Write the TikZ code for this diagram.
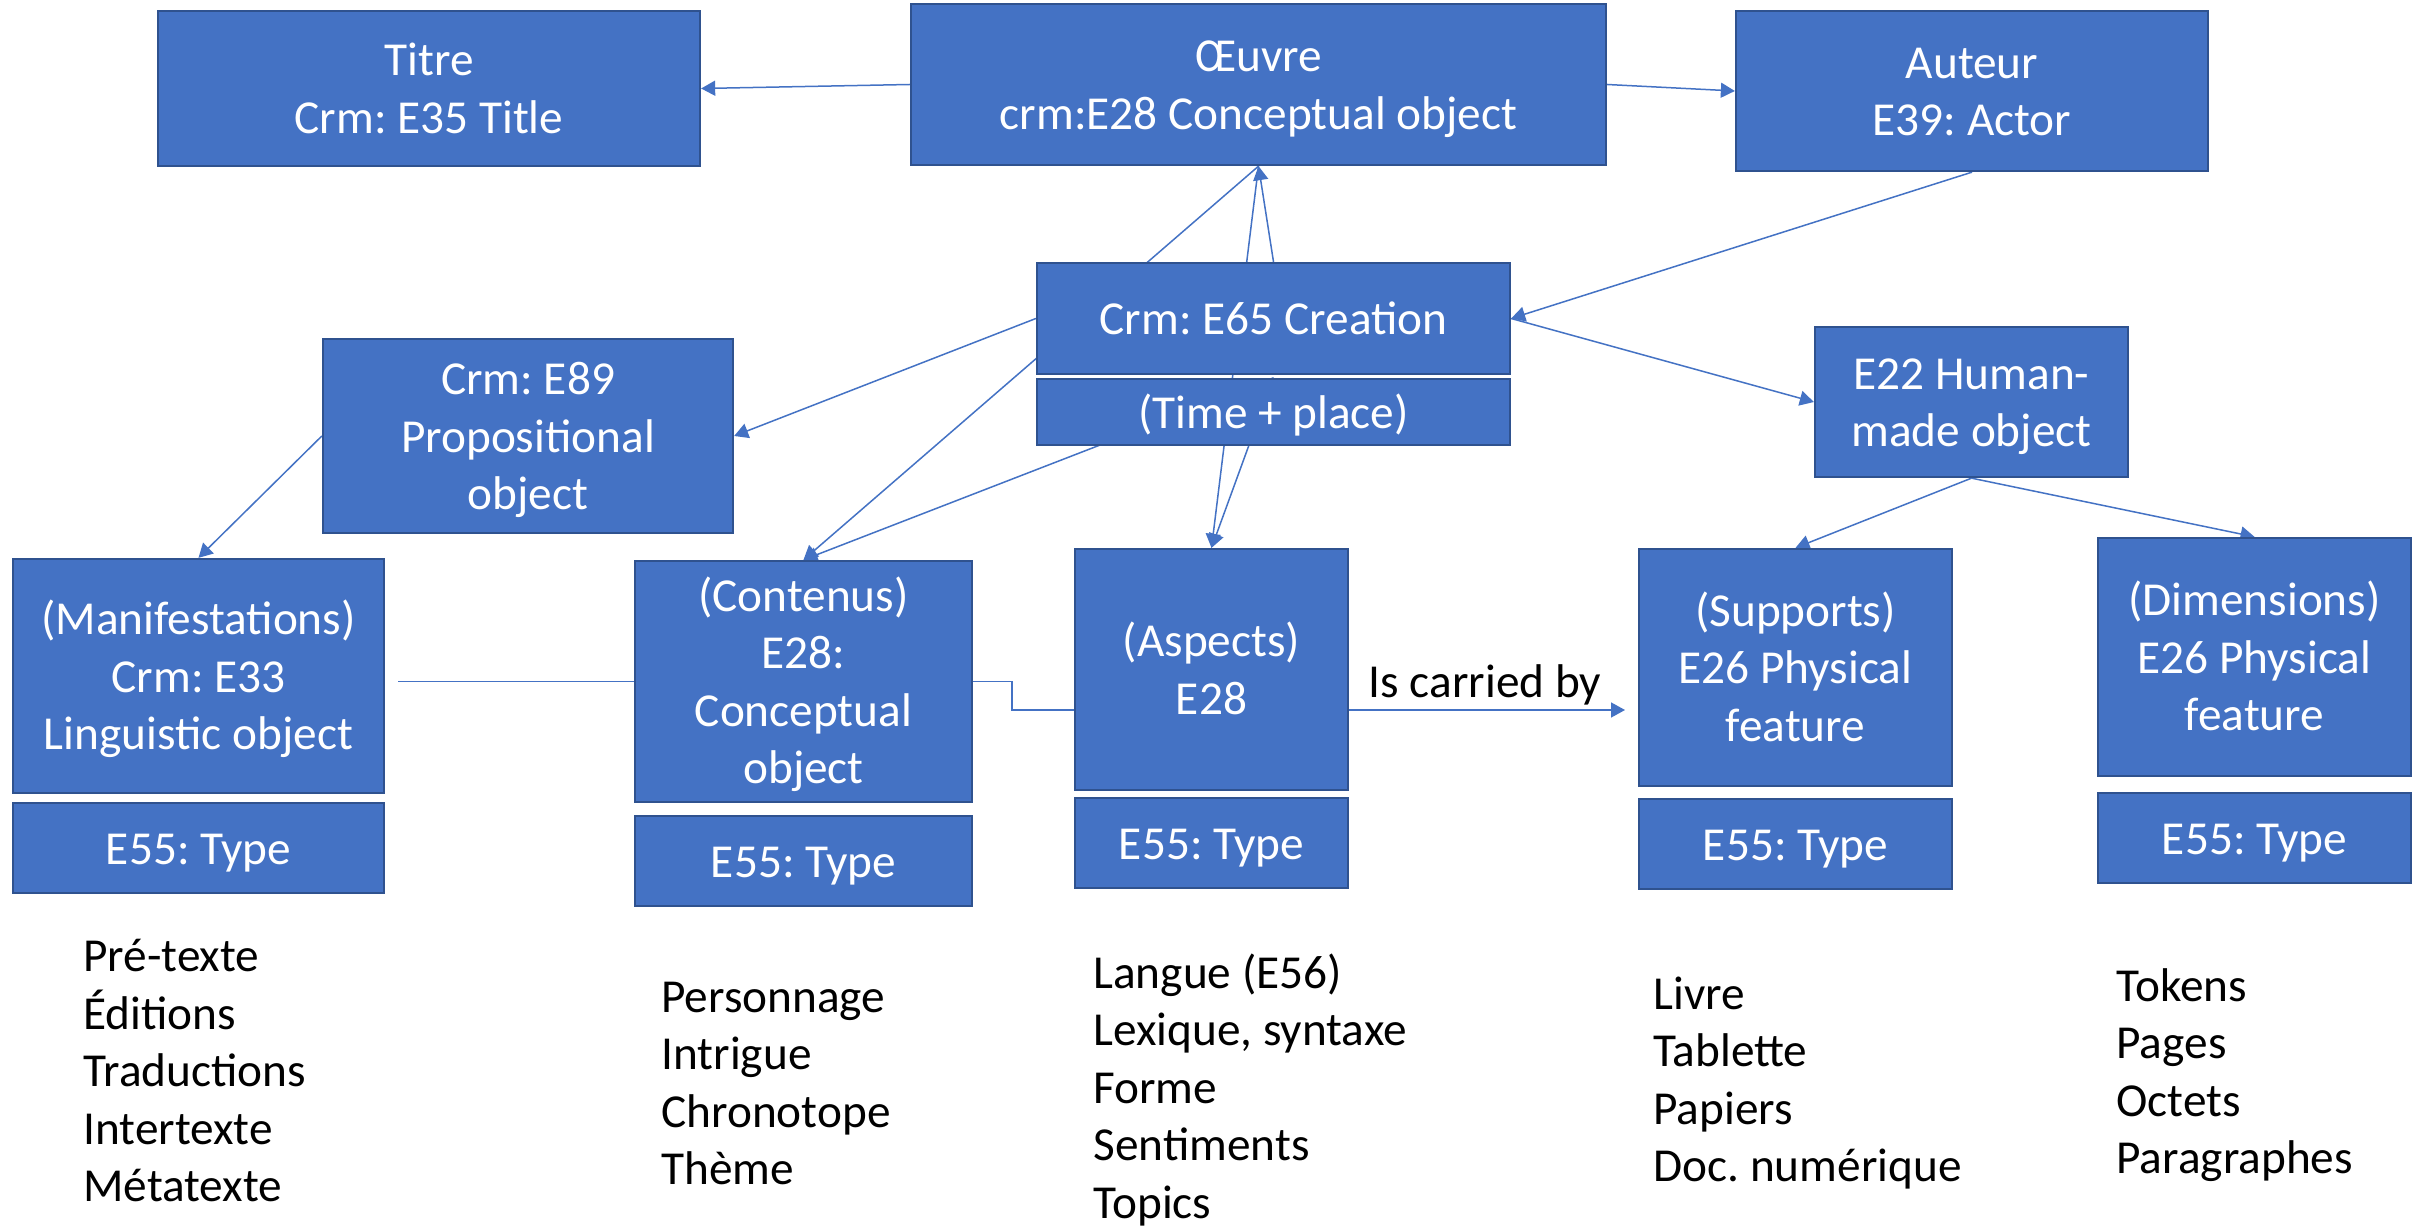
\documentclass[tikz,border=0pt]{standalone}
\usepackage{fontspec}
\setmainfont{Carlito}
\usetikzlibrary{arrows.meta}
\definecolor{boxfill}{HTML}{4472C4}
\definecolor{boxline}{HTML}{2F528F}
\definecolor{connc}{HTML}{4472C4}
\pgfdeclarelayer{bg}
\pgfdeclarelayer{paper}
\pgfsetlayers{paper,bg,main}
\frenchspacing
\newcommand\tstr{\rule{0pt}{0.952em}}
\newcommand\bstr{\rule[-0.269em]{0pt}{0pt}}
\begin{document}
\begin{tikzpicture}[x=0.5pt,y=-0.5pt,
  box/.style={draw=boxline,line width=1.15pt,fill=boxfill,text=white,align=center,inner sep=0pt,
    font=\fontsize{23.65pt}{28.75pt}\selectfont},
  link/.style={draw=connc,line width=0.75pt},
  arr/.style={link,-{Triangle[length=7pt,width=7.5pt]}},
  lst/.style={anchor=base west,inner sep=0pt,font=\fontsize{23.65pt}{28.75pt}\selectfont}]
\begin{pgfonlayer}{paper}
\fill[white] (0,0) rectangle (2428,1229);
\end{pgfonlayer}
\useasboundingbox (0,0) rectangle (2428,1229);

% top row
\node[box,minimum width=271pt,minimum height=77.5pt] (titre) at (429,88.5) {\tstr Titre\\Crm: E35 Title\bstr};
\node[box,minimum width=347.5pt,minimum height=80.5pt] (oeuvre) at (1258.5,84.5) {\tstr Œuvre\\crm:E28 Conceptual object\bstr};
\node[box,minimum width=236pt,minimum height=80pt] (auteur) at (1972,91) {\tstr Auteur\\E39: Actor\bstr};

% middle
\node[box,minimum width=236.5pt,minimum height=55.5pt] (creation) at (1273.5,318.5) {\tstr Crm: E65 Creation\bstr};
\node[box,minimum width=236.5pt,minimum height=33pt] (time) at (1273.5,412) {\tstr(Time + place)\bstr};
\node[box,minimum width=205pt,minimum height=97pt] (e89) at (528,436) {\tstr Crm: E89\\Propositional\\object\bstr};
\node[box,minimum width=156.5pt,minimum height=75pt] (e22) at (1971.5,402) {\tstr E22 Human-\\made object\bstr};

% lower row
\node[box,minimum width=185.5pt,minimum height=117pt] (manif) at (198.5,676) {\tstr(Manifestations)\\Crm: E33\\Linguistic object\bstr};
\node[box,minimum width=185.5pt,minimum height=45pt] (manift) at (198.5,848) {\tstr E55: Type\bstr};
\node[box,minimum width=168.5pt,minimum height=120.5pt] (cont) at (803.5,681.5) {\tstr(Contenus)\\E28:\\Conceptual\\object\bstr};
\node[box,minimum width=168.5pt,minimum height=45pt] (contt) at (803.5,861) {\tstr E55: Type\bstr};
\node[box,minimum width=136.5pt,minimum height=120.5pt] (asp) at (1211.5,669.5) {\tstr(Aspects)\\E28\bstr};
\node[box,minimum width=136.5pt,minimum height=45pt] (aspt) at (1211.5,843) {\tstr E55: Type\bstr};
\node[box,minimum width=156.5pt,minimum height=118.5pt] (supp) at (1795.5,667.5) {\tstr(Supports)\\E26 Physical\\feature\bstr};
\node[box,minimum width=156.5pt,minimum height=45pt] (suppt) at (1795.5,844) {\tstr E55: Type\bstr};
\node[box,minimum width=156.5pt,minimum height=119pt] (dim) at (2254.5,657) {\tstr(Dimensions)\\E26 Physical\\feature\bstr};
\node[box,minimum width=156.5pt,minimum height=45pt] (dimt) at (2254.5,838) {\tstr E55: Type\bstr};

% label
\node[anchor=base,inner sep=0pt,font=\fontsize{23.65pt}{28.75pt}\selectfont] (carrylbl) at (1485,697) {Is carried by};
\coordinate (carry) at (1625,710);

% lists
\node[lst] (list1) at (83,971.7) {\vtop{\hbox{Pré-texte}\hbox{Éditions}\hbox{Traductions}\hbox{Intertexte}\hbox{Métatexte}}};
\node[lst] (list2) at (661,1012) {\vtop{\hbox{Personnage}\hbox{Intrigue}\hbox{Chronotope}\hbox{Thème}}};
\node[lst] (list3) at (1093,988) {\vtop{\hbox{Langue (E56)}\hbox{Lexique, syntaxe}\hbox{Forme}\hbox{Sentiments}\hbox{Topics}}};
\node[lst] (list4) at (1653,1009) {\vtop{\hbox{Livre}\hbox{Tablette}\hbox{Papiers}\hbox{Doc. numérique}}};
\node[lst] (list5) at (2116,1001) {\vtop{\hbox{Tokens}\hbox{Pages}\hbox{Octets}\hbox{Paragraphes}}};

% connectors
\begin{pgfonlayer}{bg}
\draw[arr] (oeuvre.west) -- (titre.east);
\draw[arr] (oeuvre.east) -- (auteur.west);
\draw[arr] (creation.north) -- (oeuvre.south);
\draw[arr] (oeuvre.south) -- (asp.north);
\draw[arr] (oeuvre.south) -- (cont.north);
\draw[arr] (time.north) -- (cont.north);
\draw[arr] (time.north) -- (asp.north);
\draw[arr] (creation.west) -- (e89.east);
\draw[arr] (e89.west) -- (manif.north);
\draw[arr] (auteur.south) -- (creation.east);
\draw[arr] (creation.east) -- (e22.west);
\draw[arr] (e22.south) -- (supp.north);
\draw[arr] (e22.south) -- (dim.north);
\draw[link,shorten >=6.5pt] (cont.west) -- (cont.west -| manif.east);
\draw[arr] (cont.east) -- ++(39,0) |- (carry);
\end{pgfonlayer}
\end{tikzpicture}
\end{document}
